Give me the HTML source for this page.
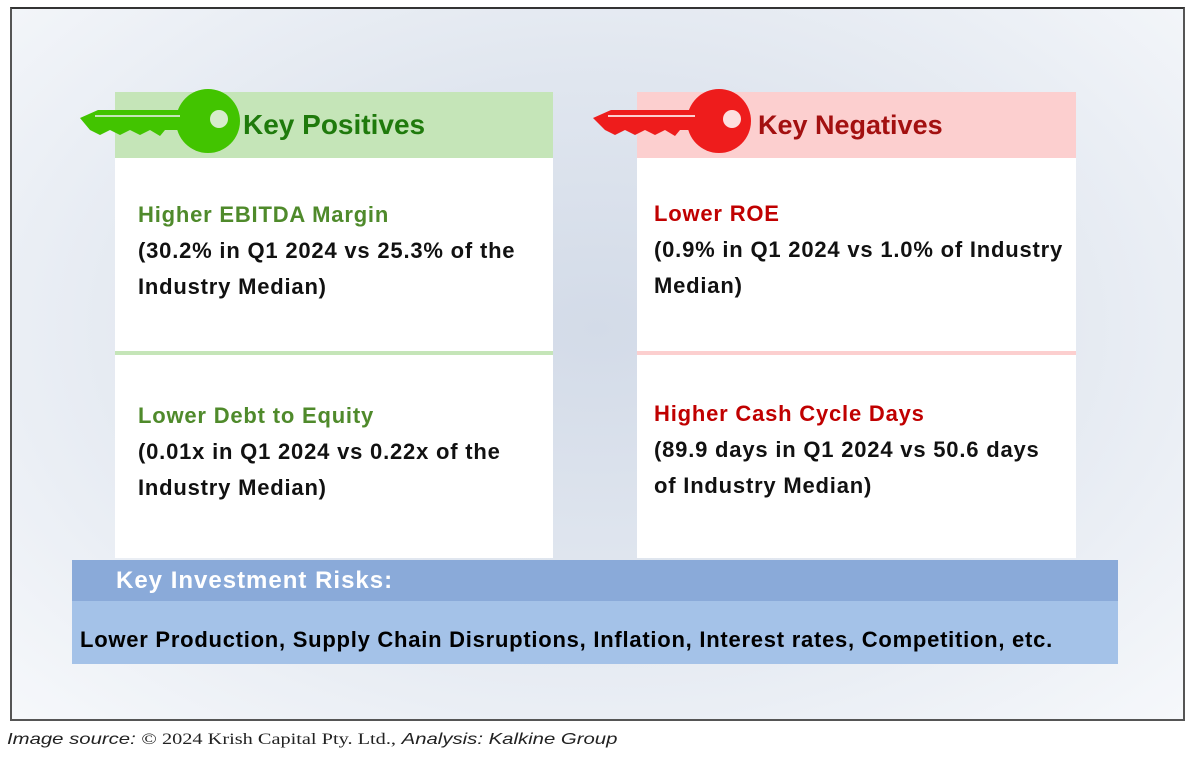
<!DOCTYPE html>
<html><head><style>
body{margin:0;width:1200px;height:763px;background:#fff;font-family:"Liberation Sans",sans-serif;position:relative;overflow:hidden}
.frame{position:absolute;left:10px;top:7px;width:1175px;height:714px;border:2px solid #555;border-top-color:#333;background:radial-gradient(ellipse at 50% 45%,#d3dbe8 0%,#e0e6ef 45%,#f6f8fb 100%);box-sizing:border-box}
.abs{position:absolute}
.hdr{position:absolute;height:66px;top:92px}
.box{position:absolute;background:#fff}
.t{position:absolute;font-weight:bold;font-size:22px;letter-spacing:0.8px;line-height:36px;color:#111}
.g{color:#4f8a2b}.r{color:#c00000}
</style></head><body>
<div class="frame"></div>
<div class="hdr" style="left:115px;width:438px;background:#c5e5b8"></div>
<div class="hdr" style="left:637px;width:439px;background:#fccfcf"></div>
<div class="box" style="left:115px;top:158px;width:438px;height:193px"></div>
<div class="abs" style="left:115px;top:351px;width:438px;height:4px;background:#c5e5b8"></div>
<div class="box" style="left:115px;top:355px;width:438px;height:203px"></div>
<div class="box" style="left:637px;top:158px;width:439px;height:193px"></div>
<div class="abs" style="left:637px;top:351px;width:439px;height:4px;background:#fccfcf"></div>
<div class="box" style="left:637px;top:355px;width:439px;height:203px"></div>
<svg class="abs" style="left:0;top:0" width="1200" height="200">
<g fill="#42c400">
<polygon points="80,118 98,110 185,110 185,130 165,130 160,136 150,130 140,135 130,130 120,135 110,130 100,135 90,130"/>
<circle cx="208" cy="121" r="32"/>
</g>
<line x1="95" y1="116" x2="180" y2="116" stroke="#c5e5b8" stroke-width="2"/>
<circle cx="219" cy="119" r="9" fill="#d6eccc"/>
<g fill="#ee1c1c">
<polygon points="593,118 611,110 700,110 700,130 680,130 675,136 665,130 655,135 645,130 635,135 625,130 615,135 605,130"/>
<circle cx="719" cy="121" r="32"/>
</g>
<line x1="608" y1="116" x2="695" y2="116" stroke="#fccfcf" stroke-width="2"/>
<circle cx="732" cy="119" r="9" fill="#fde0e0"/>
<text x="243" y="134" font-family="Liberation Sans" font-weight="bold" font-size="28" fill="#1f7a0c">Key Positives</text>
<text x="758" y="134" font-family="Liberation Sans" font-weight="bold" font-size="27" fill="#a31010">Key Negatives</text>
</svg>
<div class="t" style="left:138px;top:197px"><span class="g">Higher EBITDA Margin</span><br>(30.2% in Q1 2024 vs 25.3% of the<br>Industry Median)</div>
<div class="t" style="left:138px;top:398px"><span class="g">Lower Debt to Equity</span><br>(0.01x in Q1 2024 vs 0.22x of the<br>Industry Median)</div>
<div class="t" style="left:654px;top:196px"><span class="r">Lower ROE</span><br>(0.9% in Q1 2024 vs 1.0% of Industry<br>Median)</div>
<div class="t" style="left:654px;top:396px"><span class="r">Higher Cash Cycle Days</span><br>(89.9 days in Q1 2024 vs 50.6 days<br>of Industry Median)</div>
<div class="abs" style="left:72px;top:560px;width:1046px;height:41px;background:#8aaad9"></div>
<div class="abs" style="left:72px;top:601px;width:1046px;height:63px;background:#a4c2e8"></div>
<div class="abs" style="left:116px;top:567px;font-size:24px;letter-spacing:1px;font-weight:bold;color:#fff">Key Investment Risks:</div>
<div class="abs" style="left:80px;top:627px;font-size:22px;letter-spacing:0.75px;font-weight:bold;color:#000;white-space:nowrap">Lower Production, Supply Chain Disruptions, Inflation, Interest rates, Competition, etc.</div>
<div class="abs" style="left:7px;top:731px;font-size:16px;color:#222;white-space:nowrap;transform:scaleX(1.27);transform-origin:0 0"><i>Image source:</i> <span style="font-family:'Liberation Serif',serif">© 2024 Krish Capital Pty. Ltd.,</span> <i>Analysis: Kalkine Group</i></div>
</body></html>
